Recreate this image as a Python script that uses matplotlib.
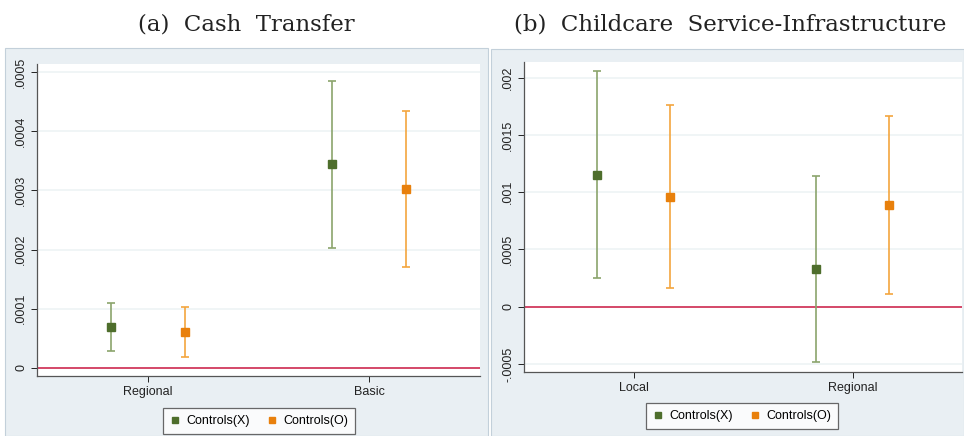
import matplotlib
matplotlib.use("Agg")
import matplotlib.pyplot as plt
from matplotlib.patches import Rectangle
from matplotlib.lines import Line2D

# coefficient estimates with 95% CI bounds
cash_groups = ["Regional", "Basic"]
cash_x_coef = [0.0000684, 0.000344]
cash_x_lo = [0.0000277, 0.000203]
cash_x_hi = [0.000109, 0.000485]
cash_o_coef = [0.0000599, 0.0003025]
cash_o_lo = [0.0000176, 0.000171]
cash_o_hi = [0.000102, 0.000434]
cash_ticks = [0, 0.0001, 0.0002, 0.0003, 0.0004, 0.0005]
cash_ticklabels = ["0", ".0001", ".0002", ".0003", ".0004", ".0005"]

care_groups = ["Local", "Regional"]
care_x_coef = [0.001153, 0.000329]
care_x_lo = [0.000248, -0.00048]
care_x_hi = [0.002061, 0.001144]
care_o_coef = [0.000961, 0.000888]
care_o_lo = [0.000166, 0.000111]
care_o_hi = [0.001759, 0.001663]
care_ticks = [-0.0005, 0, 0.0005, 0.001, 0.0015, 0.002]
care_ticklabels = ["-.0005", "0", ".0005", ".001", ".0015", ".002"]

series_names = ["Controls(X)", "Controls(O)"]
mark_cols = ["#4e6e2c", "#e8800c"]
bar_cols = ["#8ba46c", "#f3a53e"]

W, H = 964, 436
fig = plt.figure(figsize=(W / 100, H / 100), dpi=100)
fig.patch.set_facecolor("white")
plt.rcParams["font.family"] = ["Liberation Sans", "DejaVu Sans"]


def px_rect(x0, y0, x1, y1):
    return [x0 / W, 1 - y1 / H, (x1 - x0) / W, (y1 - y0) / H]


# stata-style graph regions
for x0, y0, x1, y1 in [(5, 48, 488, 436), (491, 49, 964, 436)]:
    r = px_rect(x0, y0, x1, y1)
    fig.patches.append(Rectangle((r[0], r[1]), r[2], r[3], transform=fig.transFigure,
                                 facecolor="#e9eff3", edgecolor="#c3d0da", lw=0.8, zorder=-1))


def panel(rect, groups, xc, xlo, xhi, oc, olo, ohi, ticks, ticklabels, ylim, title, title_x, leg_xy):
    ax = fig.add_axes(px_rect(*rect))
    ax.set_facecolor("white")
    pos = [1, 2]
    off = 1 / 6
    for k, (c, lo, hi) in enumerate([(xc, xlo, xhi), (oc, olo, ohi)]):
        xs = [p + (2 * k - 1) * off for p in pos]
        yerr = [[ci - l for ci, l in zip(c, lo)], [h - ci for ci, h in zip(c, hi)]]
        ax.errorbar(xs, c, yerr=yerr, fmt="none", ecolor=bar_cols[k], elinewidth=1.2,
                    capsize=3, capthick=1.2, zorder=3)
        ax.plot(xs, c, "s", color=mark_cols[k], markersize=5.5, zorder=4)
    ax.axhline(0, color="#d33a5e", lw=1.3, zorder=2)
    ax.set_xlim(0.5, 2.5)
    ax.set_ylim(*ylim)
    ax.set_yticks(ticks)
    ax.set_yticklabels(ticklabels, rotation=90, va="center")
    ax.set_xticks(pos)
    ax.set_xticklabels(groups)
    ax.tick_params(labelsize=9, colors="#222222", length=4, width=0.7, pad=3)
    ax.grid(axis="y", color="#eef4f5", lw=1.2, zorder=1)
    ax.set_axisbelow(True)
    for s in ["top", "right"]:
        ax.spines[s].set_visible(False)
    for s in ["left", "bottom"]:
        ax.spines[s].set_color("#555555")
        ax.spines[s].set_linewidth(0.9)
    fig.text(title_x / W, 1 - 24 / H, title, ha="center", va="center",
             fontsize=16.5, family="DejaVu Serif", color="#222222")
    handles = [Line2D([], [], marker="s", ls="none", color=c, markersize=5) for c in mark_cols]
    leg = fig.legend(handles, series_names, loc="center", ncol=2, fontsize=9,
                     bbox_to_anchor=(leg_xy[0] / W, 1 - leg_xy[1] / H), frameon=True,
                     fancybox=False, edgecolor="#444444", handlelength=0.8, handletextpad=0.5,
                     columnspacing=1.4, borderpad=0.55, borderaxespad=0)
    leg.get_frame().set_linewidth(0.9)
    return ax


panel((37, 64, 480, 376), cash_groups, cash_x_coef, cash_x_lo, cash_x_hi,
      cash_o_coef, cash_o_lo, cash_o_hi, cash_ticks, cash_ticklabels,
      (-0.000014, 0.000514), "(a)  Cash  Transfer", 246, (259, 421))
panel((524, 62, 962, 372), care_groups, care_x_coef, care_x_lo, care_x_hi,
      care_o_coef, care_o_lo, care_o_hi, care_ticks, care_ticklabels,
      (-0.00057, 0.002137), "(b)  Childcare  Service-Infrastructure", 730, (742, 416))

fig.savefig("out.png", dpi=100)
